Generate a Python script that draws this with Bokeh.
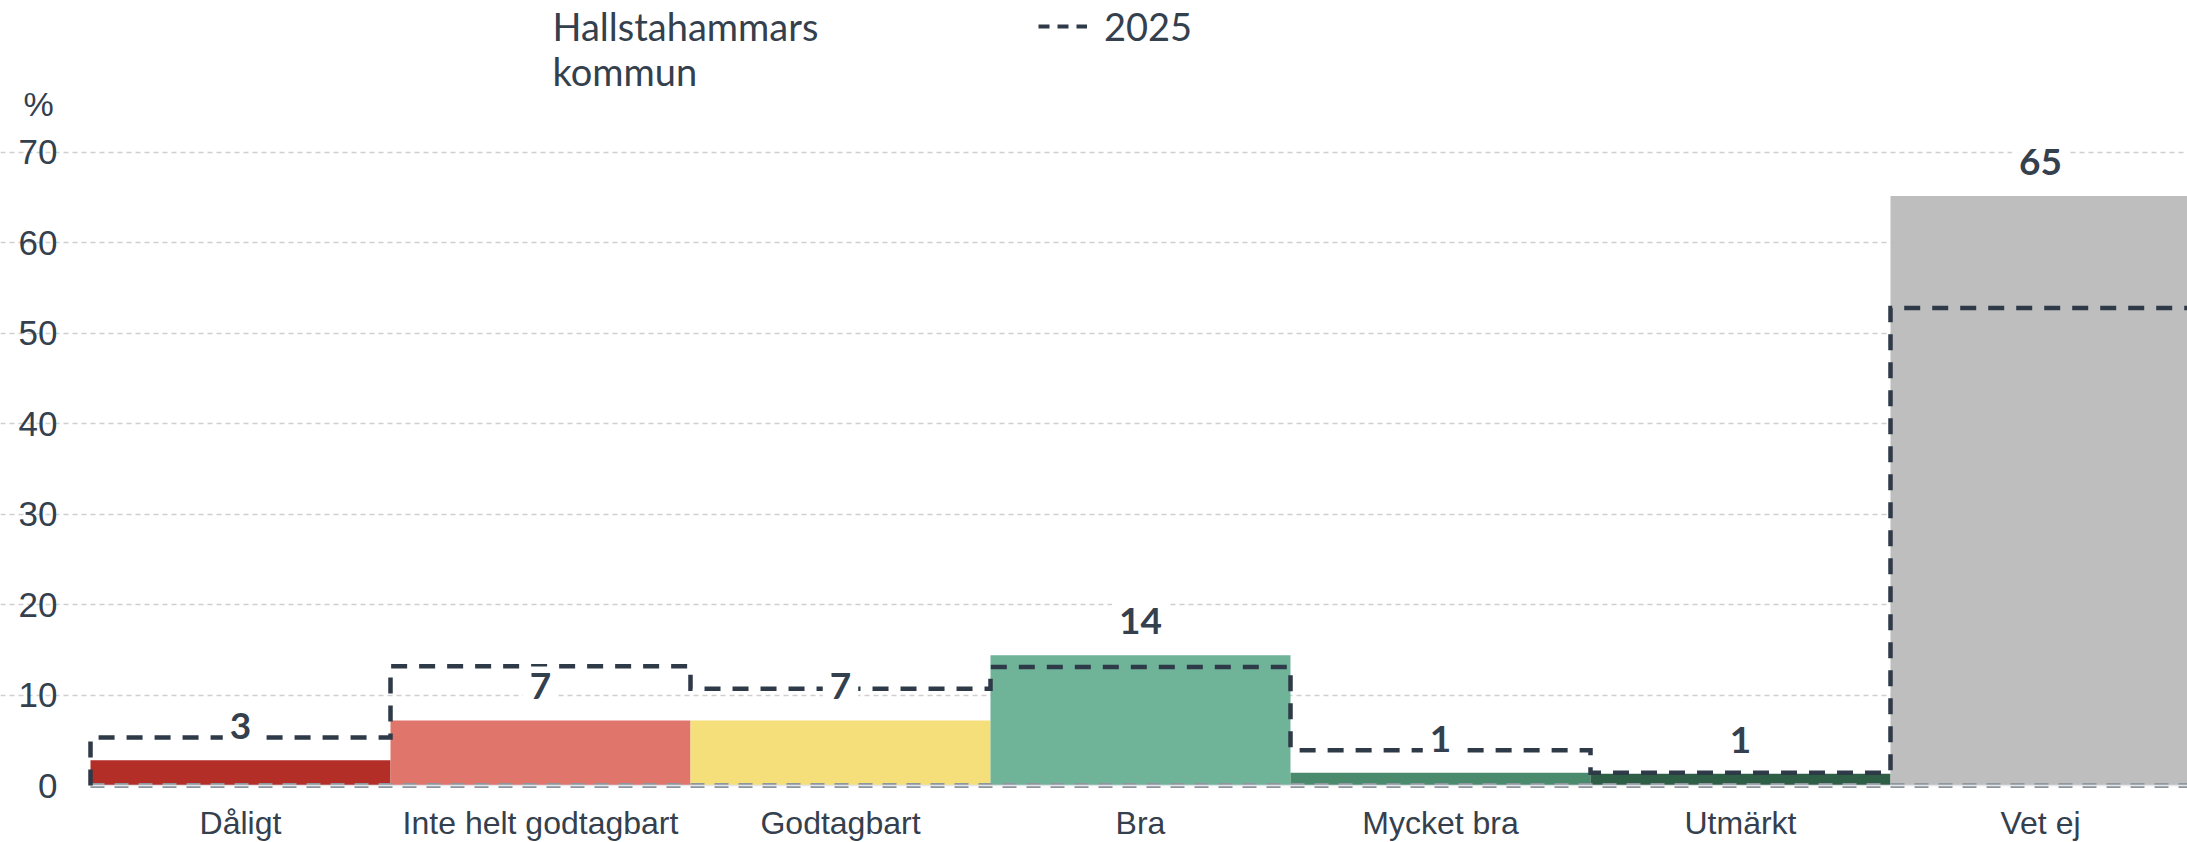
from bokeh.plotting import figure
from bokeh.models import (Range1d, FixedTicker, ColumnDataSource, Label, Legend,
                          LegendItem, Grid)
from bokeh.core.properties import value
from bokeh.embed import file_html
from bokeh.resources import INLINE

# ---------------- data ----------------
categories = ["Dåligt", "Inte helt godtagbart", "Godtagbart", "Bra",
              "Mycket bra", "Utmärkt", "Vet ej"]
values_kommun = [2.8, 7.2, 7.2, 14.4, 1.4, 1.3, 65.2]
labels_kommun = ["3", "7", "7", "14", "1", "1", "65"]
values_2025 = [5.3, 13.2, 10.7, 13.1, 3.9, 1.4, 52.8]
bar_colors = ["#b22e27", "#e0756c", "#f5df7b", "#6fb398", "#4a8b6e",
              "#2f5e47", "#bebebe"]
y_ticks = [0, 10, 20, 30, 40, 50, 60, 70]
series_name = "Hallstahammars kommun"
ref_name = "2025"
unit_label = "%"

# ---------------- style / layout ----------------
TEXT = "#34404d"
LINE = "#2e3a47"
TICK_FONT = "Liberation Sans"
LEG_FONT = "Lato"

W, H = 2187, 842
LEFT = 90          # px reserved left of first category
CAT_PX = 300       # px per category
Y0_PX = 785        # canvas y of value 0
PX_PER_UNIT = 9.043

n = len(categories)
centers = [i + 0.5 for i in range(n)]

x_range = Range1d(-LEFT / CAT_PX, (W - LEFT) / CAT_PX)
y_range = Range1d(-(H - Y0_PX) / PX_PER_UNIT, Y0_PX / PX_PER_UNIT)

p = figure(width=W, height=H, output_backend="svg", toolbar_location=None,
           x_range=x_range, y_range=y_range,
           x_axis_type=None, y_axis_type=None,
           min_border_left=0, min_border_right=0, min_border_top=0,
           min_border_bottom=0)
p.outline_line_color = None
p.background_fill_color = "white"
p.border_fill_color = "white"

# horizontal grid
p.add_layout(Grid(dimension=1, ticker=FixedTicker(ticks=y_ticks[1:]),
                  bounds=(0, n), grid_line_color="#cfcfcf",
                  grid_line_dash="5 4", grid_line_width=1.5))

# bars
src = ColumnDataSource(dict(x=centers, top=values_kommun, color=bar_colors,
                            label=labels_kommun, cat=categories,
                            zero=[0] * n))
p.vbar(x="x", top="top", bottom=0, width=1.0, fill_color="color",
       line_color=None, source=src)

# baseline (double dashed grey)
p.line([0, n], [0, 0], line_color="#8e969e", line_width=5, line_dash="14 10")
p.line([0, n], [0, 0], line_color="#e4e6e9", line_width=1.5)

# 2025 step outline
xs = [0]
ys = [0]
for i, v in enumerate(values_2025):
    xs += [i, i + 1]
    ys += [v, v]
p.line(xs, ys, line_color=LINE, line_width=4.5, line_dash="16 12",
       line_join="miter")

# value labels
p.text(x="x", y="top", text="label", source=src, y_offset=-34,
       text_align="center", text_baseline="middle",
       text_font=value(LEG_FONT), text_font_style="bold",
       text_font_size="37px", text_color=TEXT,
       background_fill_color="white", padding=7)

# category labels (x axis)
p.text(x="x", y="zero", text="cat", source=src, y_offset=37,
       text_align="center", text_baseline="middle",
       text_font=value(TICK_FONT), text_font_size="32px", text_color=TEXT)

# y tick labels
ysrc = ColumnDataSource(dict(x=[0] * len(y_ticks), y=y_ticks,
                             t=[str(t) for t in y_ticks]))
p.text(x="x", y="y", text="t", source=ysrc, x_offset=-33,
       text_align="right", text_baseline="middle",
       text_font=value(TICK_FONT), text_font_size="35px", text_color=TEXT)

# unit label
p.add_layout(Label(x=23, y=H - 103, x_units="screen", y_units="screen",
                   text=unit_label, text_font=TICK_FONT, text_font_size="34px",
                   text_color=TEXT, text_baseline="alphabetic"))

# series name (legend text without swatch)
for k, line in enumerate(series_name.split(" ")):
    p.add_layout(Label(x=552, y=H - 25 - 45 * k, x_units="screen",
                       y_units="screen", text=line, text_font=LEG_FONT,
                       text_font_size="38px", text_color=TEXT,
                       text_baseline="alphabetic"))

# 2025 legend (proxy line with no drawable points)
dummy = p.line(x=[0], y=[float("nan")], line_color=LINE, line_width=4,
               line_dash="11 8")
leg = Legend(items=[LegendItem(label=ref_name, renderers=[dummy])],
             location=(1038, H - 49), orientation="horizontal",
             glyph_width=49, glyph_height=40, label_standoff=17,
             label_text_font=LEG_FONT, label_text_font_size="38px",
             label_text_color=TEXT, padding=0, margin=0, spacing=0,
             border_line_color=None, background_fill_alpha=0)
p.add_layout(leg)

open("out.html", "w").write(file_html(p, INLINE))
